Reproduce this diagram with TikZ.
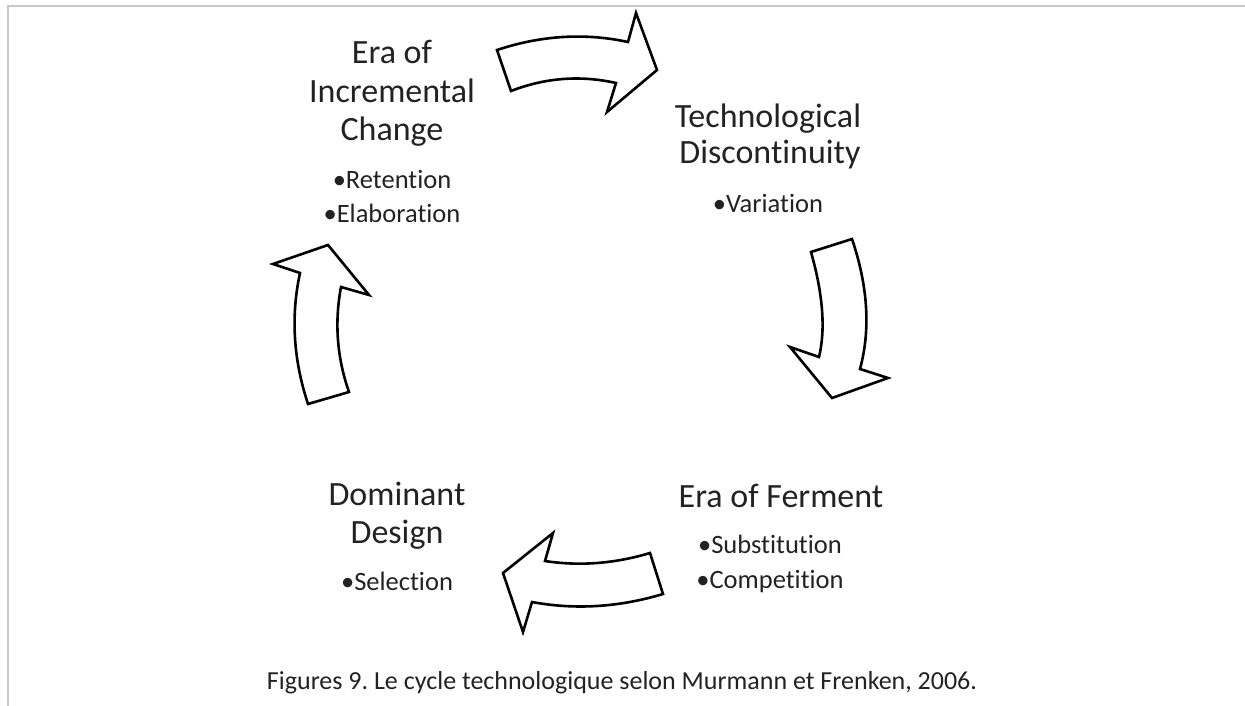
\documentclass[tikz,border=0pt]{standalone}
\usepackage{fontspec}
\setmainfont{Carlito}[Ligatures=NoCommon]
\frenchspacing
\definecolor{framegray}{HTML}{C8C8C8}
\definecolor{txt}{HTML}{222222}
\tikzset{
  headtext/.style={anchor=base, inner sep=0pt, text=txt, font=\fontsize{34}{38}\selectfont},
  bultext/.style={anchor=base, inner sep=0pt, text=txt, font=\fontsize{26.5}{30}\selectfont},
  captext/.style={anchor=base, inner sep=0pt, text=txt, font=\fontsize{26}{30}\selectfont},
  blockarrow/.style={draw=black, fill=white, line width=2.6pt, line join=miter},
  frameline/.style={draw=framegray, line width=2pt}
}
\begin{document}
\begin{tikzpicture}[x=1pt,y=-1pt]
\useasboundingbox (0,0) rectangle (1245,706);
% frame
\coordinate (ftr) at (1245,6);
\coordinate (ftl) at (8,6);
\coordinate (fbl) at (8,706);
\draw[frameline] (ftr) -- (ftl) -- (fbl);

% Era of Incremental Change
\node[headtext] (inc1) at (392,64) {Era of};
\node[headtext] (inc2) at (392,103) {Incremental};
\node[headtext] (inc3) at (392,141) {Change};
\node[bultext] (inc4) at (392,188) {•Retention};
\node[bultext] (inc5) at (392,222) {•Elaboration};

% Technological Discontinuity
\node[headtext] (tec1) at (768,128) {Technological};
\node[headtext] (tec2) at (770,164) {Discontinuity};
\node[bultext] (tec3) at (768,212) {•Variation};

% Era of Ferment
\node[headtext] (fer1) at (781,507) {Era of Ferment};
\node[bultext] (fer2) at (770,553) {•Substitution};
\node[bultext] (fer3) at (770,588) {•Competition};

% Dominant Design
\node[headtext] (dom1) at (397,505) {Dominant};
\node[headtext] (dom2) at (397,543) {Design};
\node[bultext] (dom3) at (397,590) {•Selection};

% caption
\node[captext] (caption) at (622,689) {Figures 9. Le cycle technologique selon Murmann et Frenken, 2006.};

% top arrow (to the right)
\draw[blockarrow] (497,50) .. controls (541.3,35.3) and (585,32.7) .. (628,42)
  -- (636,13) -- (657,70) -- (607,112) -- (616,83)
  .. controls (580.3,75) and (545.3,77.7) .. (511,91) -- cycle;

% right arrow (downward)
\draw[blockarrow] (811,252) -- (852,239) .. controls (868,286.3) and (870.7,329.7) .. (860,369)
  -- (888,378) -- (832,398) -- (790,347) -- (819,357)
  .. controls (825.7,329.3) and (823,294.3) .. cycle;

% bottom arrow (to the left)
\draw[blockarrow] (650,553) .. controls (614.3,563.7) and (579.3,566.3) .. (545,561)
  -- (553,533) -- (503,573) -- (523,632) -- (532,602)
  .. controls (575,610) and (618.7,607.3) .. (663,594) -- cycle;

% left arrow (upward)
\draw[blockarrow] (308,404) -- (349,392) .. controls (337,357.7) and (334.3,322.7) .. (341,287)
  -- (369,295) -- (328,245) -- (273,264) -- (300,273)
  .. controls (290.7,316) and (293.3,359.7) .. cycle;
\end{tikzpicture}
\end{document}
